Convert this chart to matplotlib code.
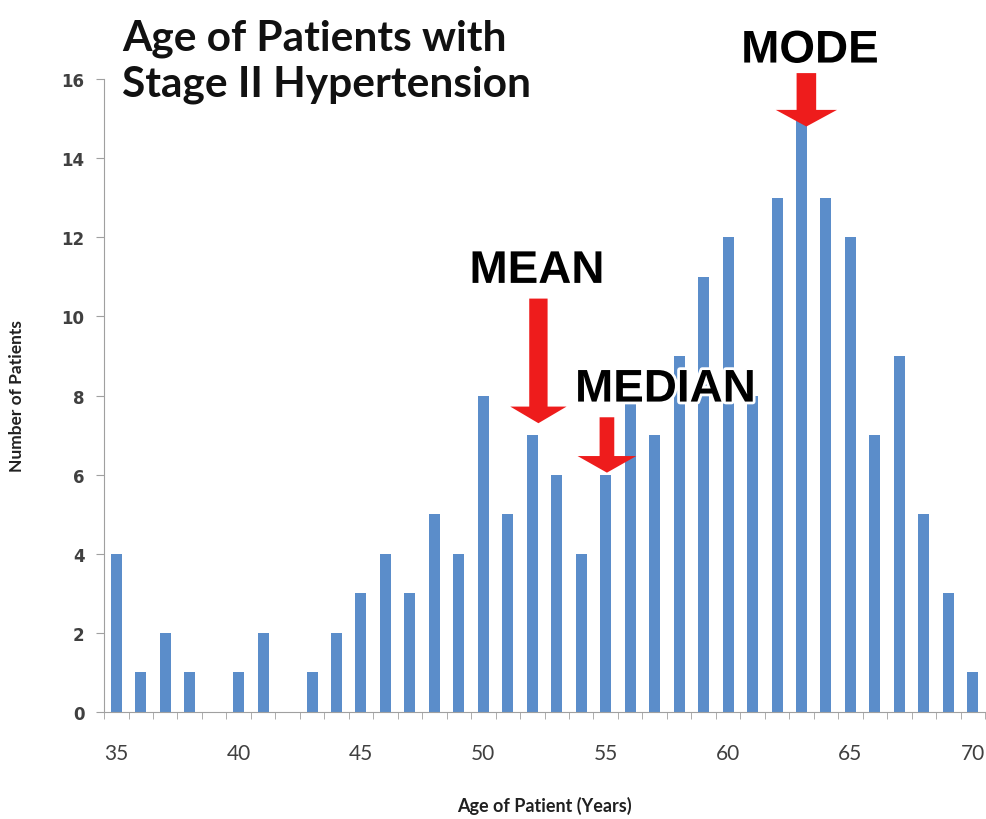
import numpy as np
import matplotlib
matplotlib.use("Agg")
import matplotlib.pyplot as plt
import matplotlib.patheffects as pe

ages = list(range(35, 71))
counts = [4, 1, 2, 1, 0, 1, 2, 0, 1, 2, 3, 4, 3, 5, 4, 8, 5, 7, 6, 4,
          6, 8, 7, 9, 11, 12, 8, 13, 15, 13, 12, 7, 9, 5, 3, 1]
xticks = [35, 40, 45, 50, 55, 60, 65, 70]
yticks = [0, 2, 4, 6, 8, 10, 12, 14, 16]

# marker labels: (text, x position, arrow tip, arrow tail)
mean_x, mean_tip, mean_tail = 52.25, 7.3, 10.45
median_x, median_tip, median_tail = 55.05, 6.05, 7.45
mode_x, mode_tip, mode_tail = 63.2, 14.8, 16.15

fig = plt.figure(figsize=(9.87, 8.2), dpi=100)
ax = fig.add_axes([0.1054, 0.1305, 0.8926, 0.7719])

ax.bar(ages, counts, width=0.45, color='#5b8dca', zorder=2)

ax.set_xlim(34.5, 70.5)
ax.set_ylim(0, 16)
ax.set_xticks(xticks)
ax.set_xticks(np.arange(34.5, 71, 1), minor=True)
ax.set_yticks(yticks)
ax.tick_params(axis='x', which='major', length=0, pad=22, labelsize=15,
               labelcolor='#404040')
ax.tick_params(axis='x', which='minor', length=5, color='#a0a0a0', direction='out')
ax.tick_params(axis='y', length=6, color='#a0a0a0', labelsize=12,
               labelcolor='#404040', pad=8)
for lab in ax.get_xticklabels():
    lab.set_family('Lato')
for lab in ax.get_yticklabels():
    lab.set_family('DejaVu Sans')
    lab.set_fontweight('bold')

for s in ['top', 'right']:
    ax.spines[s].set_visible(False)
ax.spines['left'].set_color('#a0a0a0')
ax.spines['bottom'].set_color('#a0a0a0')

ax.set_ylabel('Number of Patients', family='Lato', fontweight='bold',
              fontsize=12.5, color='#202020', labelpad=26)
ax.set_xlabel('Age of Patient (Years)', family='Lato', fontweight='bold',
              fontsize=13, color='#202020', labelpad=24)

fig.text(0.124, 0.976, 'Age of Patients with\nStage II Hypertension',
         family='Lato', fontweight='bold', fontsize=30.5, va='top', ha='left',
         linespacing=1.25, color='#111111')


def marker(label, x, tip, tail, hw, sw, tx, ty):
    ax.arrow(x, tail, 0, tip - tail, width=sw, head_width=hw, head_length=0.42,
             length_includes_head=True, color='#ee1c1c', ec='none',
             clip_on=False, zorder=4)
    ax.text(tx, ty, label, family='Liberation Sans', fontweight='bold',
            fontsize=33, ha='center', va='center', color='black', zorder=5,
            clip_on=False,
            path_effects=[pe.withStroke(linewidth=4, foreground='white')])


marker('MEAN', mean_x, mean_tip, mean_tail, 2.3, 0.75, 52.2, 11.15)
marker('MEDIAN', median_x, median_tip, median_tail, 2.4, 0.6, 57.45, 8.15)
marker('MODE', mode_x, mode_tip, mode_tail, 2.5, 0.8, 63.35, 16.72)

fig.savefig('out.png', dpi=100)
